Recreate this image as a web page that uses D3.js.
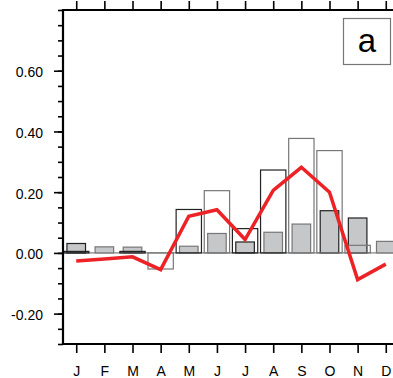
<!DOCTYPE html>
<html>
<head>
<meta charset="utf-8">
<script src="https://cdn.jsdelivr.net/npm/d3@7"></script>
<style>
  html, body { margin: 0; padding: 0; background: #fff; }
  svg { display: block; }
  text { font-family: "Liberation Sans", Arial, Helvetica, sans-serif; }
</style>
</head>
<body>
<svg id="chart" width="393" height="378"></svg>
<script>
// Monthly values
const months = ["J", "F", "M", "A", "M", "J", "J", "A", "S", "O", "N", "D"];
const openBars = [0.005, 0.0, 0.005, -0.053, 0.143, 0.205, 0.080, 0.273, 0.377, 0.337, 0.025, 0.0];
const openStrong = [true, false, true, false, true, false, true, true, false, false, false, false];
const grayBars = [0.031, 0.020, 0.019, 0.0, 0.022, 0.064, 0.036, 0.068, 0.095, 0.139, 0.115, 0.038];
const grayStrong = [true, false, false, false, false, false, true, false, false, true, true, false];
const lineValues = [-0.027, -0.020, -0.013, -0.055, 0.121, 0.142, 0.044, 0.206, 0.282, 0.200, -0.088, -0.037];
const yTicks = [-0.2, 0.0, 0.2, 0.4, 0.6];
const panelLabel = "a";

const svg = d3.select("#chart");
const plotLeft = 63, plotTop = 10, plotBottom = 344, plotRight = 400;

const x = d3.scaleLinear().domain([0.53, 12.47]).range([plotLeft, 399]);
const y = d3.scaleLinear().domain([-0.3, 0.8]).range([plotBottom, plotTop]);
const idx = d3.range(1, 13);
const step = x(2) - x(1);

// zero reference line
svg.append("line")
  .attr("x1", plotLeft).attr("x2", plotRight)
  .attr("y1", y(0)).attr("y2", y(0))
  .attr("stroke", "#666").attr("stroke-width", 1);

// filled bars
const gW = step * 0.66;
svg.append("g").selectAll("rect").data(grayBars).join("rect")
  .attr("x", (d, i) => x(i + 1) - gW / 2)
  .attr("width", gW)
  .attr("y", d => y(Math.max(0, d)))
  .attr("height", d => Math.abs(y(d) - y(0)))
  .attr("fill", "#c6c7c9")
  .attr("stroke", (d, i) => grayStrong[i] ? "#222" : "#777")
  .attr("stroke-width", 1.2);

// open bars
const oW = step * 0.9;
svg.append("g").selectAll("rect").data(openBars).join("rect")
  .attr("x", (d, i) => x(i + 1) - oW / 2)
  .attr("width", oW)
  .attr("y", d => y(Math.max(0, d)))
  .attr("height", d => Math.abs(y(d) - y(0)))
  .attr("fill", "none")
  .attr("stroke", (d, i) => openStrong[i] ? "#222" : "#777")
  .attr("stroke-width", 1.2);

// red line
const line = d3.line().x((d, i) => x(i + 1)).y(d => y(d));
svg.append("path")
  .attr("d", line(lineValues))
  .attr("fill", "none")
  .attr("stroke", "#ec2226")
  .attr("stroke-width", 3.5)
  .attr("stroke-linejoin", "miter");

// axes
const yMinor = d3.range(-0.3, 0.801, 0.05).map(v => +v.toFixed(2));
const yAxis = d3.axisLeft(y).tickValues(yTicks).tickFormat(d => d.toFixed(2)).tickSize(9).tickPadding(11);
const yMinorAxis = d3.axisLeft(y).tickValues(yMinor).tickFormat("").tickSize(5);
const xAxisB = d3.axisBottom(x).tickValues(idx).tickFormat((d, i) => months[i]).tickSize(9).tickPadding(13);
const xAxisT = d3.axisTop(x).tickValues(idx).tickFormat("").tickSize(9);

function style(g) {
  g.select(".domain").remove();
  g.selectAll(".tick line").attr("stroke", "#000").attr("stroke-width", 1.6);
  g.selectAll("text").attr("fill", "#000").attr("font-size", 14).style("font-size", "14px")
    .style("font-family", "'Liberation Sans', Arial, Helvetica, sans-serif");
}
svg.append("g").attr("transform", `translate(${plotLeft},0)`).call(yMinorAxis).call(style);
svg.append("g").attr("transform", `translate(${plotLeft},0)`).call(yAxis).call(style)
  .selectAll("text").attr("dy", "0.42em");
svg.append("g").attr("transform", `translate(0,${plotBottom})`).call(xAxisB).call(style);
svg.append("g").attr("transform", `translate(0,${plotTop})`).call(xAxisT).call(style);

// frame
svg.append("path")
  .attr("d", `M${plotRight},${plotTop}H${plotLeft}V${plotBottom}H${plotRight}`)
  .attr("fill", "none").attr("stroke", "#000").attr("stroke-width", 2.2);

// panel label
svg.append("rect")
  .attr("x", 343.5).attr("y", 18.5).attr("width", 47).attr("height", 46)
  .attr("fill", "#fff").attr("stroke", "#777").attr("stroke-width", 1.2);
svg.append("text")
  .attr("x", 367).attr("y", 52)
  .attr("text-anchor", "middle")
  .style("font-size", "33px")
  .attr("fill", "#000")
  .text(panelLabel);
</script>
</body>
</html>
